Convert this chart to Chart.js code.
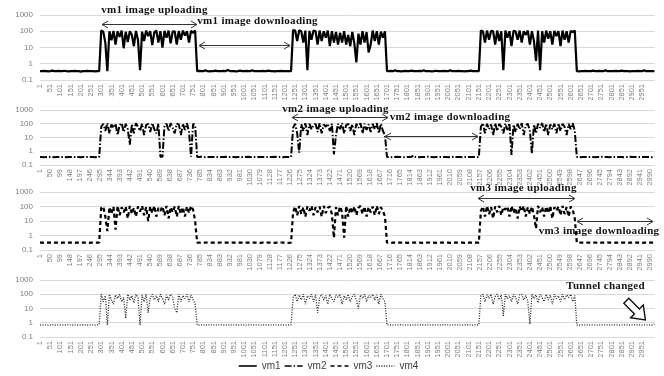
<!DOCTYPE html>
<html>
<head>
<meta charset="utf-8">
<script src="https://cdn.jsdelivr.net/npm/chart.js@4"></script>
<style>
  body { margin: 0; background: #fff; width: 664px; height: 376px; position: relative; overflow: hidden; }
  canvas { position: absolute; left: 0; }
</style>
</head>
<body>
<canvas id="p1" width="664" height="100"  style="top:0px"></canvas>
<canvas id="p2" width="664" height="90"   style="top:95px"></canvas>
<canvas id="p3" width="664" height="93"   style="top:177px"></canvas>
<canvas id="p4" width="664" height="116"  style="top:265px"></canvas>
<script>
// ── data: one value every 10 samples, sample 1 .. 3011 ───────────
const STEP = 10;

const ticksA = [1,51,101,151,201,251,301,351,401,451,501,551,601,651,701,751,801,851,901,951,
  1001,1051,1101,1151,1201,1251,1301,1351,1401,1451,1501,1551,1601,1651,1701,1751,1801,1851,1901,1951,
  2001,2051,2101,2151,2201,2251,2301,2351,2401,2451,2501,2551,2601,2651,2701,2751,2801,2851,2901,2951];
const ticksB = [1,50,99,148,197,246,295,344,393,442,491,540,589,638,687,736,785,834,883,932,981,
  1030,1079,1128,1177,1226,1275,1324,1373,1422,1471,1520,1569,1618,1667,1716,1765,1814,1863,1912,1961,
  2010,2059,2108,2157,2206,2255,2304,2353,2402,2451,2500,2549,2598,2647,2696,2745,2794,2843,2892,2941,2990];
const yTicks = [0.1, 1, 10, 100, 1000];

const vm1 = [
  // idle 1-291
  0.35,0.35,0.36,0.35,0.34,0.35,0.38,0.35,0.35,0.36,
  0.35,0.35,0.37,0.35,0.34,0.35,0.35,0.36,0.35,0.35,
  0.33,0.35,0.35,0.36,0.35,0.35,0.35,0.34,0.35,0.35,
  // uploading 301-761
  110,95,20,0.35,100,28,105,15,100,45,
  110,9,95,22,100,60,12,105,30,0.4,
  95,25,110,50,100,14,85,110,20,100,
  10,105,40,110,18,95,100,15,105,30,
  110,55,100,20,105,80,110,
  // idle 771-1231
  0.35,0.36,0.35,0.35,0.4,0.35,0.34,0.35,0.35,0.38,
  0.35,0.35,0.35,0.36,0.35,0.42,0.35,0.35,0.35,0.34,
  0.35,0.38,0.35,0.35,0.36,0.35,0.35,0.4,0.35,0.35,
  0.35,0.35,0.36,0.35,0.35,0.38,0.35,0.35,0.34,0.35,
  0.35,0.36,0.35,0.35,0.35,0.35,0.35,
  // busy 1241-1691
  120,110,25,115,100,20,110,0.4,105,30,
  110,100,15,110,25,100,40,110,12,100,
  20,90,15,80,20,100,15,60,12,90,
  18,1.2,70,15,100,20,90,5,15,110,
  25,100,15,95,40,100,
  // idle 1701-2151
  0.35,0.35,0.36,0.35,0.4,0.35,0.35,0.34,0.35,0.36,
  0.35,0.35,0.38,0.35,0.35,0.35,0.36,0.35,0.4,0.35,
  0.35,0.35,0.34,0.35,0.37,0.35,0.35,0.35,0.36,0.35,
  0.35,0.4,0.35,0.35,0.35,0.36,0.35,0.35,0.34,0.35,
  0.35,0.38,0.35,0.35,0.35,0.35,
  // busy 2161-2621
  110,100,20,110,30,105,100,15,110,25,
  100,0.4,110,40,100,12,105,100,30,110,
  20,100,60,110,15,100,25,1.5,110,0.4,
  100,20,110,35,100,15,105,50,100,12,
  110,30,100,20,105,90,110,
  // idle 2631-3011
  0.35,0.34,0.35,0.35,0.36,0.35,0.35,0.35,0.38,0.35,
  0.35,0.36,0.35,0.35,0.4,0.35,0.35,0.35,0.35,0.36,
  0.35,0.35,0.38,0.35,0.35,0.35,0.34,0.35,0.35,0.35,
  0.36,0.35,0.35,0.4,0.35,0.35,0.35,0.35,0.35
];

const vm2 = [
  0.38,0.38,0.37,0.38,0.4,0.38,0.38,0.36,0.38,0.38,
  0.39,0.38,0.38,0.37,0.38,0.38,0.4,0.38,0.38,0.38,
  0.37,0.38,0.38,0.39,0.38,0.38,0.38,0.37,0.38,0.38,
  60,100,30,110,20,90,50,100,15,80,
  110,25,100,40,3,90,20,110,60,30,
  100,15,80,100,25,110,40,20,100,0.4,
  0.4,80,100,30,110,50,20,100,90,15,
  100,35,110,25,0.4,100,80,
  0.38,0.38,0.4,0.38,0.37,0.38,0.38,0.38,0.39,0.38,
  0.38,0.37,0.38,0.38,0.4,0.38,0.38,0.38,0.38,0.37,
  0.39,0.38,0.38,0.38,0.38,0.4,0.38,0.37,0.38,0.38,
  0.38,0.38,0.39,0.38,0.38,0.37,0.38,0.38,0.4,0.38,
  0.38,0.38,0.37,0.38,0.38,0.38,0.38,
  50,100,20,0.8,90,30,110,15,100,40,
  80,100,25,110,20,90,60,100,30,100,
  0.6,15,100,40,110,20,80,100,30,90,
  15,100,50,110,20,100,35,90,25,100,
  40,110,20,100,30,15,
  0.38,0.38,0.37,0.38,0.38,0.4,0.38,0.38,0.37,0.38,
  0.38,0.38,0.39,0.5,0.38,0.38,0.37,0.38,0.38,0.38,
  0.4,0.38,0.38,0.37,0.38,0.38,0.38,0.39,0.38,0.38,
  0.37,0.38,0.38,0.4,0.38,0.38,0.38,0.37,0.38,0.38,
  0.38,0.39,0.38,0.38,0.37,0.38,
  60,110,20,100,40,90,15,110,30,100,
  60,20,100,35,110,0.55,90,25,100,40,
  110,15,80,100,30,0.7,90,20,100,50,
  110,25,100,15,90,40,100,20,110,30,
  100,60,15,100,40,110,30,
  0.38,0.38,0.37,0.38,0.38,0.39,0.38,0.38,0.38,0.37,
  0.38,0.38,0.4,0.38,0.38,0.38,0.37,0.38,0.38,0.39,
  0.38,0.38,0.38,0.37,0.38,0.38,0.4,0.38,0.38,0.38,
  0.37,0.38,0.38,0.38,0.39,0.38,0.38,0.37,0.45
];

const vm3 = [
  0.32,0.32,0.31,0.32,0.32,0.32,0.33,0.32,0.32,0.32,
  0.31,0.32,0.32,0.32,0.33,0.32,0.32,0.31,0.32,0.32,
  0.32,0.33,0.32,0.32,0.31,0.32,0.32,0.32,0.33,0.32,
  80,100,20,2,90,30,100,2.5,110,25,
  90,40,100,15,110,30,80,20,100,45,
  110,25,90,10,100,35,110,20,80,50,
  100,25,110,15,90,40,100,20,110,30,
  90,20,100,35,110,60,10,
  0.32,0.32,0.31,0.32,0.32,0.33,0.32,0.32,0.32,0.31,
  0.32,0.32,0.33,0.32,0.32,0.32,0.31,0.32,0.32,0.32,
  0.33,0.32,0.32,0.31,0.32,0.32,0.32,0.33,0.32,0.32,
  0.32,0.31,0.32,0.32,0.33,0.32,0.32,0.32,0.31,0.32,
  0.32,0.33,0.32,0.32,0.32,0.31,0.32,
  40,100,25,110,30,90,20,100,50,110,
  25,90,40,100,20,110,35,80,100,30,
  0.7,90,25,100,40,0.7,110,20,90,35,
  100,25,80,110,30,100,20,90,40,100,
  25,110,30,90,50,20,
  0.32,0.32,0.31,0.32,0.32,0.32,0.33,0.32,0.32,0.32,
  0.31,0.32,0.32,0.33,0.32,0.32,0.32,0.31,0.32,0.32,
  0.32,0.33,0.32,0.32,0.31,0.32,0.32,0.32,0.33,0.32,
  0.32,0.31,0.32,0.32,0.32,0.33,0.32,0.32,0.31,0.32,
  0.32,0.32,0.33,0.32,0.32,0.32,
  50,100,20,110,30,90,15,100,40,110,
  25,90,60,100,20,110,35,80,15,100,
  45,110,20,90,30,100,25,3,110,40,
  90,20,100,35,110,15,90,50,100,25,
  110,30,90,20,100,60,15,
  0.32,0.33,0.32,0.32,0.31,0.32,0.32,0.32,0.33,0.32,
  0.32,0.31,0.32,0.32,0.32,0.33,0.32,0.32,0.31,0.32,
  0.32,0.32,0.33,0.32,0.32,0.31,0.32,0.32,0.32,0.33,
  0.32,0.32,0.31,0.32,0.32,0.32,0.33,0.32,0.32
];

const vm4 = [
  0.7,0.68,0.72,0.7,0.66,0.7,0.74,0.7,0.69,0.7,
  0.72,0.7,0.68,0.7,0.75,0.7,0.69,0.71,0.7,0.68,
  0.7,0.73,0.7,0.69,0.7,0.72,0.7,0.68,0.7,0.74,
  100,30,80,0.7,100,40,20,90,50,100,
  30,60,2,100,40,80,25,100,60,0.7,
  90,30,100,5,60,100,40,80,30,100,
  50,20,90,40,100,60,10,5,100,30,
  80,50,100,30,90,40,20,
  0.7,0.69,0.72,0.7,0.68,0.7,0.74,0.7,0.7,0.68,
  0.71,0.7,0.73,0.69,0.7,0.7,0.68,0.72,0.7,0.7,
  0.69,0.7,0.74,0.7,0.68,0.7,0.71,0.7,0.7,0.72,
  0.7,0.68,0.7,0.73,0.7,0.69,0.7,0.7,0.72,0.7,
  0.68,0.7,0.71,0.7,0.69,0.7,0.72,
  60,100,30,90,40,100,20,80,50,100,
  30,90,5,60,100,40,80,20,100,50,
  30,90,60,100,20,80,40,100,30,70,
  100,40,10,90,50,100,30,80,60,100,
  40,90,20,100,50,30,
  0.7,0.72,0.7,0.68,0.7,0.71,0.7,0.74,0.7,0.69,
  0.7,0.7,0.68,0.72,0.7,0.7,0.73,0.7,0.69,0.7,
  0.71,0.7,0.68,0.7,0.72,0.7,0.7,0.69,0.74,0.7,
  0.7,0.68,0.7,0.71,0.7,0.72,0.7,0.69,0.7,0.7,
  0.73,0.7,0.68,0.7,0.7,0.72,
  80,100,30,90,50,100,20,70,100,40,
  90,3,100,50,80,30,100,60,20,90,
  100,40,80,30,0.8,100,50,90,25,100,
  60,30,100,40,90,20,100,50,80,30,
  100,40,90,60,100,30,80,
  0.7,0.68,0.7,0.72,0.7,0.69,0.7,0.73,0.7,0.7,
  0.68,0.7,0.71,0.7,0.72,0.7,0.69,0.7,0.74,0.7,
  0.7,0.68,0.7,0.72,0.7,0.7,0.69,0.71,0.7,0.7,
  0.73,0.7,0.68,0.7,0.7,0.72,0.7,0.69,0.8
];

// ── styles ───────────────────────────────────────────
const STYLE = {
  vm1: { color: '#000000', width: 2.2, dash: [] },
  vm2: { color: '#000000', width: 2, dash: [7, 2, 1.5, 2] },
  vm3: { color: '#000000', width: 2.2, dash: [4, 3] },
  vm4: { color: '#222222', width: 1.3, dash: [1, 1.5] },
};
const GRAY = '#808080';
const NOTE_FONT = 'bold 11px "Liberation Serif", "Times New Roman", serif';

const toPts = ys => ys.map((y, i) => ({ x: 1 + i * STEP, y }));

// annotations: text + double arrows, positioned in data units
const notesPlugin = {
  id: 'notes',
  afterDatasetsDraw(chart, args, opts) {
    const { ctx, scales: { x, y } } = chart;
    ctx.save();
    (opts.arrows || []).forEach(a => {
      const x1 = x.getPixelForValue(a.from), x2 = x.getPixelForValue(a.to);
      const yy = Math.round(y.getPixelForValue(a.y)) + 0.5;
      ctx.strokeStyle = '#333';
      ctx.lineWidth = 1;
      ctx.setLineDash([]);
      ctx.beginPath();
      ctx.moveTo(x1, yy); ctx.lineTo(x2, yy);
      ctx.moveTo(x1 + 6, yy - 3.5); ctx.lineTo(x1, yy); ctx.lineTo(x1 + 6, yy + 3.5);
      ctx.moveTo(x2 - 6, yy - 3.5); ctx.lineTo(x2, yy); ctx.lineTo(x2 - 6, yy + 3.5);
      ctx.stroke();
    });
    (opts.texts || []).forEach(t => {
      ctx.font = NOTE_FONT;
      ctx.letterSpacing = '0.3px';
      ctx.fillStyle = '#111';
      ctx.textAlign = 'center';
      ctx.textBaseline = 'middle';
      ctx.fillText(t.text, x.getPixelForValue(t.x), y.getPixelForValue(t.y));
    });
    if (opts.bigArrow) {
      const cx = x.getPixelForValue(opts.bigArrow.x), cy = y.getPixelForValue(opts.bigArrow.y);
      ctx.translate(cx, cy);
      ctx.rotate(Math.PI / 4);
      ctx.beginPath();
      ctx.moveTo(-14, -3.5); ctx.lineTo(1, -3.5); ctx.lineTo(1, -9); ctx.lineTo(13, 0);
      ctx.lineTo(1, 9); ctx.lineTo(1, 3.5); ctx.lineTo(-14, 3.5); ctx.closePath();
      ctx.fillStyle = '#fff';
      ctx.fill();
      ctx.strokeStyle = '#111';
      ctx.lineWidth = 1.4;
      ctx.stroke();
    }
    ctx.restore();
  }
};

function dataset(name, ys) {
  const s = STYLE[name];
  return {
    label: name,
    data: ys ? toPts(ys) : [],
    borderColor: s.color,
    backgroundColor: s.color,
    borderWidth: s.width,
    borderDash: s.dash,
    borderJoinStyle: 'bevel',
    pointRadius: 0,
    tension: 0,
    fill: false,
  };
}

function panel(id, datasets, ticks, notes, showLegend) {
  return new Chart(document.getElementById(id), {
    type: 'line',
    data: { datasets },
    plugins: [notesPlugin],
    options: {
      responsive: false,
      animation: false,
      parsing: false,
      layout: { padding: { top: 15, left: 2, right: 9, bottom: 0 } },
      plugins: {
        notes,
        tooltip: { enabled: false },
        legend: {
          display: showLegend,
          position: 'bottom',
          labels: {
            usePointStyle: true,
            pointStyleWidth: 18,
            padding: 4,
            color: '#404040',
            font: { size: 10, family: '"Liberation Sans", Arial, sans-serif' },
            generateLabels: chart => chart.data.datasets.map((d, i) => ({
              text: d.label,
              strokeStyle: d.borderColor,
              fillStyle: d.borderColor,
              lineWidth: Math.min(d.borderWidth, 1.6),
              lineDash: d.borderDash,
              pointStyle: 'line',
              fontColor: '#404040',
              hidden: false,
              datasetIndex: i,
            })),
          },
        },
      },
      scales: {
        x: {
          type: 'linear',
          min: 1,
          max: 3014,
          grid: { display: false, drawTicks: false },
          border: { display: false },
          afterBuildTicks: s => { s.ticks = ticks.map(v => ({ value: v })); },
          afterFit: s => { s.height = 20; },
          ticks: {
            autoSkip: false,
            minRotation: 90,
            maxRotation: 90,
            padding: 4,
            color: GRAY,
            font: { size: 7.5, family: '"Liberation Sans", Arial, sans-serif' },
            callback: v => String(v),
          },
        },
        y: {
          type: 'logarithmic',
          min: 0.1,
          max: 1000,
          grid: { color: '#d9d9d9', lineWidth: 1, drawTicks: false },
          border: { display: false },
          afterBuildTicks: s => { s.ticks = yTicks.map(v => ({ value: v })); },
          afterFit: s => { s.width = 38; },
          ticks: {
            padding: 7,
            color: GRAY,
            font: { size: 8, family: '"Liberation Sans", Arial, sans-serif' },
            callback: v => String(v),
          },
        },
      },
    },
  });
}

panel('p1', [dataset('vm1', vm1)], ticksA, {
  texts: [
    { text: 'vm1 image uploading', x: 562, y: 1900 },
    { text: 'vm1 image downloading', x: 1067, y: 430 },
  ],
  arrows: [
    { from: 305, to: 770, y: 280 },
    { from: 780, to: 1226, y: 14 },
  ],
}, false);

panel('p2', [dataset('vm2', vm2)], ticksB, {
  texts: [
    { text: 'vm2 image uploading', x: 1449, y: 1180 },
    { text: 'vm2 image downloading', x: 2010, y: 290 },
  ],
  arrows: [
    { from: 1236, to: 1706, y: 316 },
    { from: 1691, to: 2147, y: 13 },
  ],
}, false);

panel('p3', [dataset('vm3', vm3)], ticksB, {
  texts: [
    { text: 'vm3 image uploading', x: 2370, y: 1890 },
    { text: 'vm3 image downloading', x: 2740, y: 1.9 },
  ],
  arrows: [
    { from: 2147, to: 2622, y: 400 },
    { from: 2632, to: 3004, y: 10 },
  ],
}, false);

// last panel carries the legend for all four series
panel('p4', [dataset('vm1'), dataset('vm2'), dataset('vm3'), dataset('vm4', vm4)], ticksA, {
  texts: [{ text: 'Tunnel changed', x: 2772, y: 400 }],
  bigArrow: { x: 2922, y: 7 },
}, true);
</script>
</body>
</html>
